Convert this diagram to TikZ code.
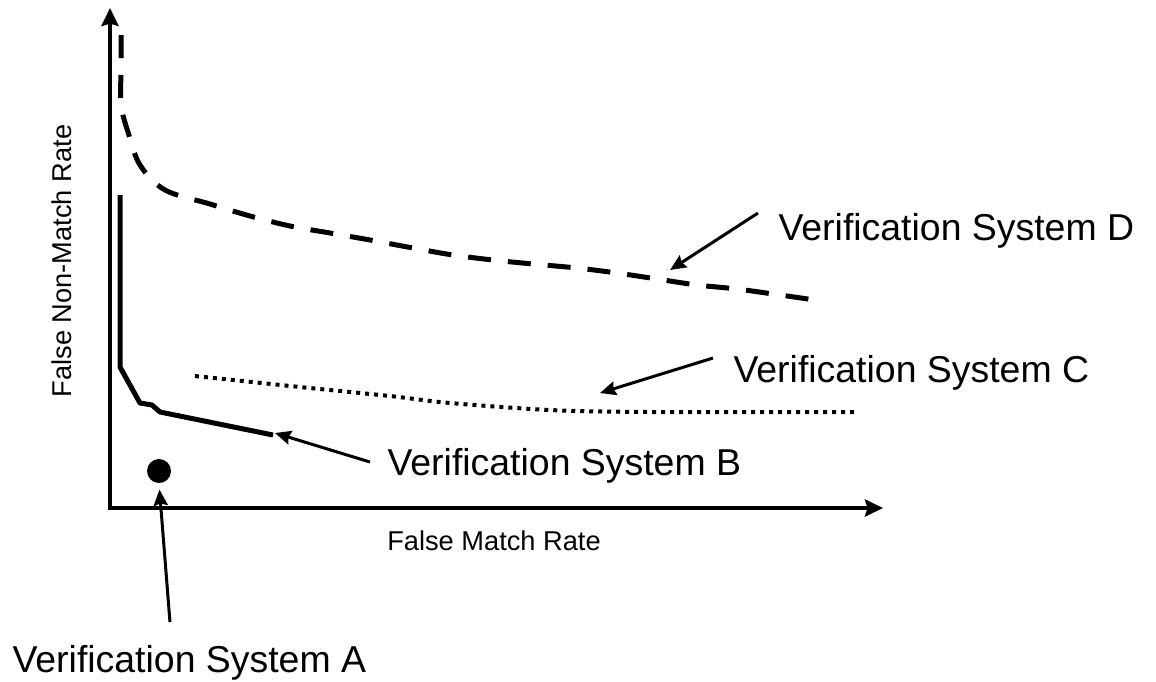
\documentclass[tikz,border=0pt]{standalone}
\usepackage{fontspec}
\setmainfont{Liberation Sans}
\usetikzlibrary{arrows.meta,positioning}

\begin{document}
\begin{tikzpicture}[x=0.02cm,y=-0.02cm,>=stealth,semithick]
  \tikzstyle{axis}=[{Stealth[length=0.36cm,width=0.34cm,inset=0.05cm]}-{Stealth[length=0.36cm,width=0.34cm,inset=0.05cm]},line width=0.08cm]
  \tikzstyle{syslabel}=[anchor=base west,inner sep=0pt,font=\fontsize{21.3}{24}\selectfont]
  \tikzstyle{axislabel}=[inner sep=0pt,font=\fontsize{15.5}{18}\selectfont]
  \tikzstyle{pointer}=[-{Stealth[length=0.32cm,width=0.28cm,inset=0.04cm]},line width=0.06cm]
  \tikzstyle{curveB}=[line width=0.1cm,line join=round]
  \tikzstyle{curveC}=[line width=0.08cm,dash pattern=on 0.08cm off 0.1cm]
  \tikzstyle{curveD}=[line width=0.1cm,dash pattern=on 0.46cm off 0.34cm]

  \useasboundingbox (0,0) rectangle (1156,681);

  % axes
  \coordinate (origin) at (110,508);
  \coordinate (yTip) at (110,8);
  \coordinate (xTip) at (883,508);
  \draw[axis] (yTip) |- (xTip);
  \node[axislabel] (xLabel) at (494,541) {False Match Rate};
  \node[axislabel,rotate=90] (yLabel) at (62,261) {False Non-Match Rate};

  % curves
  \draw[curveD] plot[smooth,tension=0.55] coordinates {(121,35) (121,70) (121,105) (128,132) (140,165) (165,190) (210,204) (250,216) (290,226) (330,233) (370,240) (413,248) (453,255) (493,260) (533,264) (577,268) (617,273) (657,279) (697,285) (737,289) (780,295) (815,300)};
  \draw[curveC] plot[smooth,tension=0.5] coordinates {(195,376) (300,387) (390,396) (450,403) (550,410) (650,412) (855,412)};
  \draw[curveB] (120,195) -- (120,367) -- (140,403) -- (152,405) -- (160,412) -- (273,435);
  \node[circle,fill=black,minimum size=0.48cm,inner sep=0pt] (ptA) at (159,471) {};

  \coordinate (tipD) at (670,270);
  \coordinate (tipC) at (600,393);
  \coordinate (tipB) at (275,433);

  % labels
  \node[syslabel] (sysD) at (778,240) {Verification System D};
  \node[syslabel] (sysC) at (733,382) {Verification System C};
  \node[syslabel] (sysB) at (387,475) {Verification System B};
  \node[syslabel] (sysA) at (12,672) {Verification System A};

  \draw[pointer] ([xshift=-0.4cm,yshift=0.54cm]sysD.base west) -- (tipD);
  \draw[pointer] ([xshift=-0.4cm,yshift=0.48cm]sysC.base west) -- (tipC);
  \draw[pointer] ([xshift=-0.34cm,yshift=0.26cm]sysB.base west) -- (tipB);
  \draw[pointer,shorten >=0.12cm] ([xshift=3.16cm,yshift=1cm]sysA.base west) -- (ptA.south);
\end{tikzpicture}
\end{document}
